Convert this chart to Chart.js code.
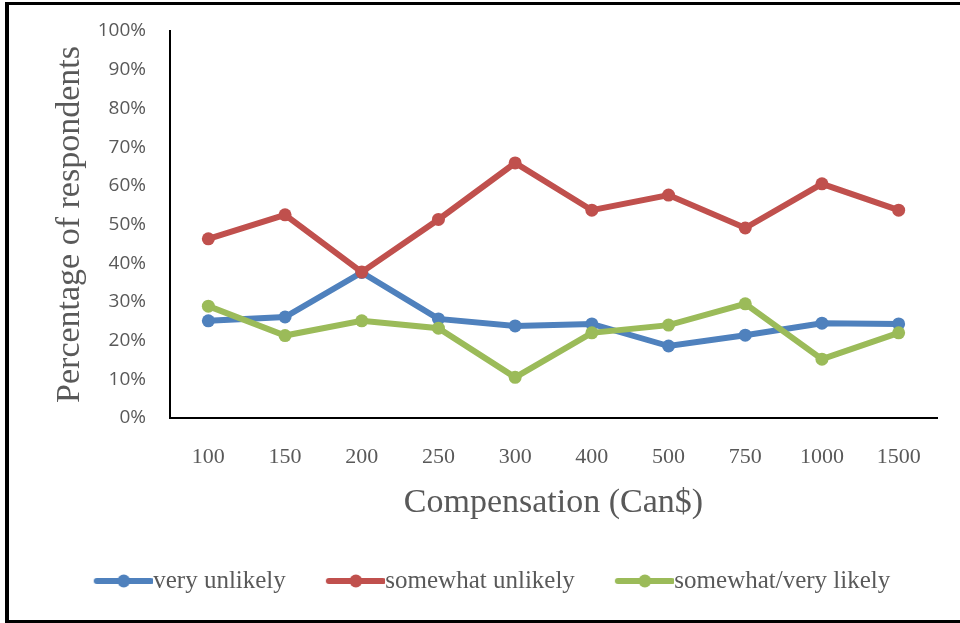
<!DOCTYPE html>
<html>
<head>
<meta charset="utf-8">
<script src="https://cdn.jsdelivr.net/npm/chart.js@4"></script>
<style>
  html, body { margin: 0; padding: 0; background: #fff; }
  #wrap { position: relative; width: 960px; height: 623px; }
  #frame {
    position: absolute; left: 5px; top: 2px; width: 955px; height: 621px;
    box-sizing: border-box; border-left: 4px solid #000; border-top: 3px solid #000;
    border-bottom: 3px solid #000; pointer-events: none;
  }
</style>
</head>
<body>
<div id="wrap">
  <canvas id="chart" width="960" height="623"></canvas>
  <div id="frame"></div>
</div>
<script>
const categories = ['100', '150', '200', '250', '300', '400', '500', '750', '1000', '1500'];
const seriesNames = ['very unlikely', 'somewhat unlikely', 'somewhat/very likely'];
const veryUnlikely = [25.1, 26.1, 37.6, 25.6, 23.8, 24.3, 18.6, 21.4, 24.5, 24.3];
const somewhatUnlikely = [46.3, 52.5, 37.7, 51.3, 65.9, 53.7, 57.6, 49.1, 60.5, 53.7];
const likely = [28.9, 21.3, 25.1, 23.2, 10.5, 22.0, 24.0, 29.5, 15.2, 22.0];
const yTicks = [0, 10, 20, 30, 40, 50, 60, 70, 80, 90, 100];

const colors = ['#4F81BD', '#C0504D', '#9BBB59'];
const gray = '#595959';

// legend marker: thick line with a dot in the middle
function legendIcon(color) {
    const c = document.createElement('canvas');
    c.width = 68;
    c.height = 16;
    const ctx = c.getContext('2d');
    ctx.strokeStyle = color;
    ctx.lineWidth = 6;
    ctx.lineCap = 'round';
    ctx.beginPath();
    ctx.moveTo(12, 8);
    ctx.lineTo(66, 8);
    ctx.stroke();
    ctx.fillStyle = color;
    ctx.beginPath();
    ctx.arc(39, 8, 6.5, 0, Math.PI * 2);
    ctx.fill();
    return c;
}
const icons = colors.map(legendIcon);

function line(label, data, color, order) {
    return {
        label: label,
        data: data,
        borderColor: color,
        backgroundColor: color,
        borderWidth: 6,
        pointRadius: 6.5,
        pointHoverRadius: 6.5,
        pointBorderWidth: 0,
        pointBackgroundColor: color,
        tension: 0,
        order: order
    };
}

Chart.defaults.font.family = '"Liberation Serif", serif';
Chart.defaults.color = gray;

new Chart(document.getElementById('chart'), {
    type: 'line',
    data: {
        labels: categories,
        datasets: [
            line(seriesNames[0], veryUnlikely, colors[0], 3),
            line(seriesNames[1], somewhatUnlikely, colors[1], 2),
            line(seriesNames[2], likely, colors[2], 1)
        ]
    },
    options: {
        responsive: false,
        animation: false,
        layout: { padding: { left: 50, right: 23, top: 31, bottom: 19.5 } },
        plugins: {
            tooltip: { enabled: false },
            legend: {
                position: 'bottom',
                labels: {
                    usePointStyle: true,
                    pointStyleWidth: 44,
                    padding: 43,
                    color: gray,
                    font: { size: 25 },
                    sort: (a, b) => a.datasetIndex - b.datasetIndex,
                    generateLabels(chart) {
                        const items = Chart.defaults.plugins.legend.labels.generateLabels(chart);
                        items.forEach(it => { it.pointStyle = icons[it.datasetIndex]; });
                        return items;
                    }
                }
            }
        },
        scales: {
            x: {
                offset: true,
                grid: { display: false, drawTicks: false },
                border: { display: true, color: '#000', width: 2 },
                ticks: { padding: 26, color: gray, font: { size: 22 }, maxRotation: 0 },
                title: {
                    display: true,
                    text: 'Compensation (Can$)',
                    color: gray,
                    font: { size: 34 },
                    padding: { top: 0, bottom: 2 }
                },
                afterFit(scale) {
                    scale.height = 107.5;
                    scale.paddingLeft = 0;
                    scale.paddingRight = 0;
                }
            },
            y: {
                min: 0,
                max: 100,
                afterBuildTicks(scale) { scale.ticks = yTicks.map(v => ({ value: v })); },
                grid: { display: false, drawTicks: false },
                border: { display: true, color: '#000', width: 2 },
                ticks: {
                    padding: 24,
                    color: gray,
                    font: { family: '"Open Sans", sans-serif', size: 19 },
                    callback: v => v + '%'
                },
                title: {
                    display: true,
                    text: 'Percentage of respondents',
                    color: gray,
                    font: { size: 34 },
                    padding: { top: 0, bottom: 0 }
                },
                afterFit(scale) {
                    scale.width = 120;
                    scale.paddingTop = 0;
                    scale.paddingBottom = 0;
                }
            }
        }
    }
});
</script>
</body>
</html>
